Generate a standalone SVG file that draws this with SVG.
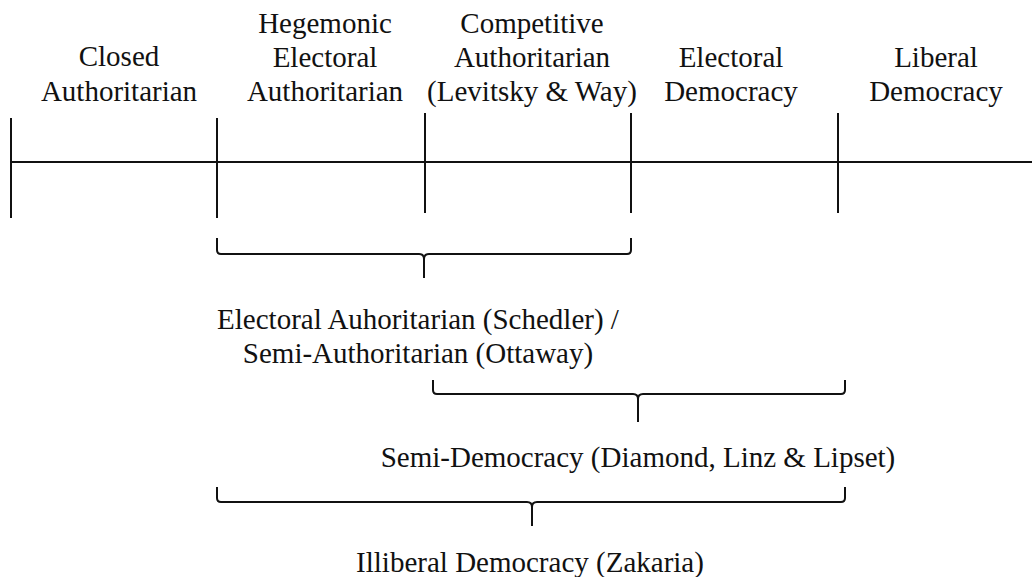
<svg xmlns="http://www.w3.org/2000/svg" width="1032" height="577" viewBox="0 0 1032 577">
<style>
text{font-family:"Liberation Serif","Times New Roman",serif;font-size:29px;fill:#111;text-anchor:middle}
.ln{stroke:#111;stroke-width:2;fill:none}
</style>
<rect width="1032" height="577" fill="#fff"/>
<g id="connectors">
<line class="ln" x1="11" y1="162" x2="1032" y2="162"/>
<line class="ln" x1="11" y1="118" x2="11" y2="218"/>
<line class="ln" x1="217" y1="118" x2="217" y2="218"/>
<line class="ln" x1="425" y1="113" x2="425" y2="213"/>
<line class="ln" x1="631" y1="113" x2="631" y2="213"/>
<line class="ln" x1="838" y1="113" x2="838" y2="213"/>
<path class="ln" d="M217,238 V250 Q217,254 221,254 H419 Q424,254 424,259 V278 M424,259 Q424,254 429,254 H627 Q631,254 631,250 V238"/>
<path class="ln" d="M433,380 V390 Q433,394 437,394 H633 Q638,394 638,399 V422 M638,399 Q638,394 643,394 H841 Q845,394 845,390 V380"/>
<path class="ln" d="M217,487 V498 Q217,502 221,502 H527 Q532,502 532,507 V526 M532,507 Q532,502 537,502 H841 Q845,502 845,498 V487"/>
</g>
<g id="closed-authoritarian">
<text x="119" y="66">Closed</text>
<text x="119" y="101">Authoritarian</text>
</g>
<g id="hegemonic-electoral-authoritarian">
<text x="325" y="33">Hegemonic</text>
<text x="325" y="67">Electoral</text>
<text x="325" y="101">Authoritarian</text>
</g>
<g id="competitive-authoritarian">
<text x="532" y="33">Competitive</text>
<text x="532" y="67">Authoritarian</text>
<text x="532" y="101">(Levitsky &amp; Way)</text>
</g>
<g id="electoral-democracy">
<text x="731" y="67">Electoral</text>
<text x="731" y="101">Democracy</text>
</g>
<g id="liberal-democracy">
<text x="936" y="67">Liberal</text>
<text x="936" y="101">Democracy</text>
</g>
<g id="electoral-authoritarian">
<text x="418" y="329">Electoral Auhoritarian (Schedler) /</text>
<text x="418" y="363">Semi-Authoritarian (Ottaway)</text>
</g>
<g id="semi-democracy">
<text x="638" y="467">Semi-Democracy (Diamond, Linz &amp; Lipset)</text>
</g>
<g id="illiberal-democracy">
<text x="530" y="572">Illiberal Democracy (Zakaria)</text>
</g>
</svg>
